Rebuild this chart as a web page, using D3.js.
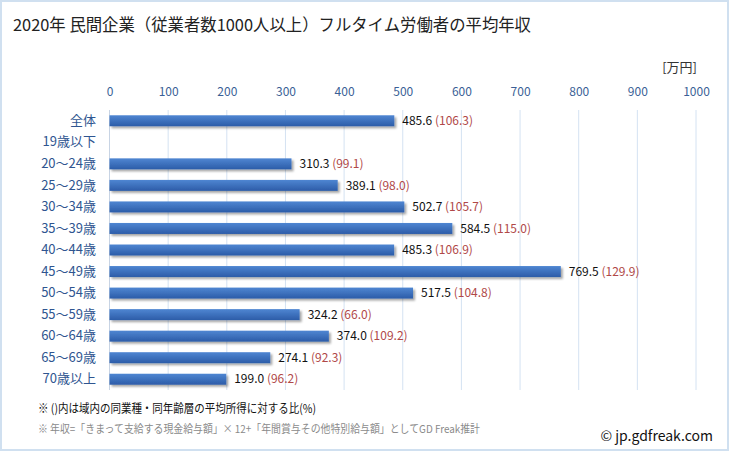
<!DOCTYPE html>
<html><head><meta charset="utf-8">
<script src="https://cdn.jsdelivr.net/npm/d3@7"></script>
<style>
html,body{margin:0;padding:0;background:#fff;}
svg text{font-family:"Noto Sans CJK JP","Noto Sans",sans-serif;}
</style></head>
<body>
<svg id="chart" width="729" height="451"></svg>
<script>
const categories = ["全体","19歳以下","20〜24歳","25〜29歳","30〜34歳","35〜39歳","40〜44歳","45〜49歳","50〜54歳","55〜59歳","60〜64歳","65〜69歳","70歳以上"];
const values = [485.6, 0, 310.3, 389.1, 502.7, 584.5, 485.3, 769.5, 517.5, 324.2, 374.0, 274.1, 199.0];
const ratios = [106.3, null, 99.1, 98.0, 105.7, 115.0, 106.9, 129.9, 104.8, 66.0, 109.2, 92.3, 96.2];
const tickValues = [0,100,200,300,400,500,600,700,800,900,1000];

(function(){
const svg = d3.select("#chart");
const W = 729, H = 451;
const pLeft = 109.5, pRight = 696, pTop = 110, pBottom = 390;

const defs = svg.append("defs");
const grad = defs.append("linearGradient").attr("id","barGrad").attr("x1",0).attr("y1",0).attr("x2",0).attr("y2",1);
grad.append("stop").attr("offset","0%").attr("stop-color","#4f86d2");
grad.append("stop").attr("offset","100%").attr("stop-color","#2c5ca8");
const filt = defs.append("filter").attr("id","shadow").attr("x","-5%").attr("y","-30%").attr("width","115%").attr("height","190%");
filt.append("feDropShadow").attr("dx",2).attr("dy",2).attr("stdDeviation",1.2).attr("flood-color","#000").attr("flood-opacity",0.35);

// border
svg.append("rect").attr("x",1).attr("y",1).attr("width",W-2).attr("height",H-2)
  .attr("fill","#fff").attr("stroke","#d0e0f0").attr("stroke-width",2);

// title
svg.append("text").attr("x",13).attr("y",31).attr("font-size",16.5).attr("fill","#222")
  .attr("textLength",518).attr("lengthAdjust","spacingAndGlyphs")
  .text("2020年 民間企業（従業者数1000人以上）フルタイム労働者の平均年収");

const x = d3.scaleLinear().domain([0,1000]).range([pLeft,pRight]);
const y = d3.scaleBand().domain(categories).range([pTop,pBottom]).paddingInner(0.49).paddingOuter(0.245);

// gridlines
svg.append("g").selectAll("line").data(tickValues).join("line")
  .attr("x1",d=>x(d)).attr("x2",d=>x(d)).attr("y1",pTop).attr("y2",pBottom)
  .attr("stroke",(d)=>d===0?"#c8d4e4":"#d4e2f2").attr("stroke-width",1);

// top axis labels
const xAxis = d3.axisTop(x).tickValues(tickValues).tickFormat(d3.format("d")).tickSize(0).tickPadding(0);
const gx = svg.append("g").attr("transform","translate(0,96)").call(xAxis);
gx.select(".domain").remove();
gx.selectAll("text").attr("font-size",12).attr("fill","#3a5f96")
  .style("font-family","'Noto Sans CJK JP','Noto Sans',sans-serif");

svg.append("text").attr("x",697).attr("y",72).attr("text-anchor","end").attr("font-size",13).attr("fill","#333").text("[万円]");

// category axis
const yAxis = d3.axisLeft(y).tickSize(0).tickPadding(0);
const gy = svg.append("g").attr("transform","translate(96,0)").call(yAxis);
gy.select(".domain").remove();
gy.selectAll("text").attr("font-size",13).attr("fill","#2f5590")
  .style("font-family","'Noto Sans CJK JP','Noto Sans',sans-serif");

const rows = categories.map((c,i)=>({c,v:values[i],r:ratios[i]})).filter(d=>d.v>0);

// bars
svg.append("g").selectAll("rect").data(rows).join("rect")
  .attr("x",x(0)).attr("y",d=>y(d.c)).attr("width",d=>x(d.v)-x(0)).attr("height",y.bandwidth())
  .attr("fill","url(#barGrad)").attr("filter","url(#shadow)");

// value labels
const lbl = svg.append("g").selectAll("text").data(rows).join("text")
  .attr("x",d=>x(d.v)+8).attr("y",d=>y(d.c)+y.bandwidth()/2).attr("dy","0.35em").attr("font-size",12);
lbl.append("tspan").attr("fill","#111").text(d=>d.v.toFixed(1));
lbl.append("tspan").attr("fill","#b04848").text(d=>" ("+d.r.toFixed(1)+")");

// footnotes
svg.append("text").attr("x",38).attr("y",413).attr("font-size",12).attr("fill","#111")
  .attr("textLength",278).attr("lengthAdjust","spacingAndGlyphs")
  .text("※ ()内は域内の同業種・同年齢層の平均所得に対する比(%)");
svg.append("text").attr("x",38).attr("y",433).attr("font-size",11).attr("fill","#8a8a8a")
  .attr("textLength",442).attr("lengthAdjust","spacingAndGlyphs")
  .text("※ 年収=「きまって支給する現金給与額」× 12+「年間賞与その他特別給与額」としてGD Freak推計");
svg.append("text").attr("x",713).attr("y",441).attr("text-anchor","end").attr("font-size",14).attr("fill","#111")
  .text("© jp.gdfreak.com");
})();
</script>
</body></html>
